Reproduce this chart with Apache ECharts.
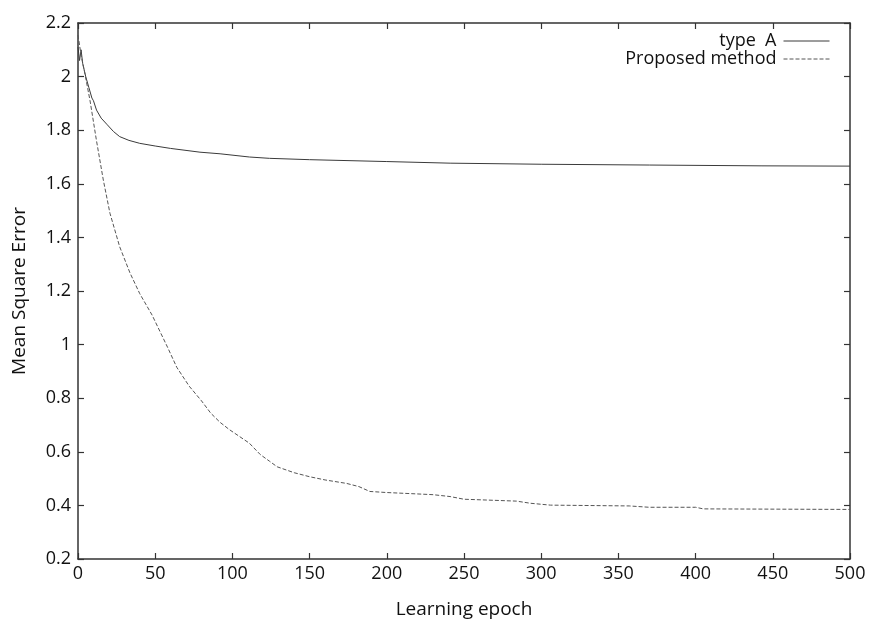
<!DOCTYPE html>
<html>
<head>
<meta charset="utf-8">
<script src="https://cdn.jsdelivr.net/npm/echarts@6/dist/echarts.min.js"></script>
<style>html,body{margin:0;padding:0;background:#fff}#c{width:872px;height:626px}</style>
</head>
<body>
<div id="c"></div>
<script>
const typeAEpochs = [0,1,2,3,5,7,9,10,12,15,19,23,27,33,40,50,60,79,92,111,124,150,200,241,300,370,443,500];
const typeAValues = [2.11,2.06,2.10,2.05,2.00,1.96,1.92,1.91,1.875,1.845,1.82,1.795,1.776,1.762,1.751,1.741,1.732,1.718,1.712,1.700,1.695,1.690,1.683,1.677,1.673,1.670,1.667,1.666];
const proposedEpochs = [0,2,4.5,7.8,12,16.4,20.7,27,33.7,40,48,53,58,64,72,80,86,92,98,111,118,124,129,140,150,160,174,182,189,200,219,230,241,250,284,293,306,357,370,400,405,500];
const proposedValues = [2.155,2.08,2.01,1.91,1.76,1.614,1.49,1.365,1.267,1.19,1.11,1.05,0.99,0.915,0.845,0.79,0.744,0.71,0.683,0.632,0.59,0.565,0.544,0.522,0.507,0.495,0.482,0.47,0.452,0.448,0.443,0.44,0.433,0.423,0.416,0.408,0.401,0.398,0.393,0.393,0.387,0.385];
const seriesNames = ['type  A', 'Proposed method'];
const xLabel = 'Learning epoch';
const yLabel = 'Mean Square Error';

const FONT = 'Open Sans';
const axisColor = '#333';
const chart = echarts.init(document.getElementById('c'));
const zip = (xs, ys) => xs.map((x, i) => [x, ys[i]]);
const fmt = v => String(Math.round(v * 10) / 10);

chart.setOption({
  animation: false,
  grid: { left: 78, right: 22, top: 23, bottom: 67 },
  legend: {
    orient: 'vertical', right: 37, top: 27, align: 'right',
    itemWidth: 46, itemHeight: 12, itemGap: 0,
    itemStyle: { opacity: 0 },
    lineStyle: { width: 1 },
    textStyle: { fontFamily: FONT, fontSize: 18, color: '#111', padding: [0, 2, 0, 0] },
    data: seriesNames
  },
  xAxis: [{
    type: 'value', min: 0, max: 500, interval: 50,
    name: xLabel, nameLocation: 'middle', nameGap: 41,
    nameTextStyle: { fontFamily: FONT, fontSize: 19, color: '#111' },
    axisLine: { show: true, onZero: false, lineStyle: { color: axisColor, width: 1.5 } },
    axisTick: { show: true, inside: true, length: 6, lineStyle: { color: axisColor, width: 1.2 } },
    axisLabel: { fontFamily: FONT, fontSize: 18, color: '#111', margin: 6 },
    splitLine: { show: false }
  }, {
    type: 'value', min: 0, max: 500, interval: 50, position: 'top',
    axisLine: { show: true, onZero: false, lineStyle: { color: axisColor, width: 1.5 } },
    axisTick: { show: true, inside: true, length: 6, lineStyle: { color: axisColor, width: 1.2 } },
    axisLabel: { show: false }, splitLine: { show: false }
  }],
  yAxis: [{
    type: 'value', min: 0.2, max: 2.2, interval: 0.2,
    name: yLabel, nameLocation: 'middle', nameGap: 49, nameRotate: 90,
    nameTextStyle: { fontFamily: FONT, fontSize: 19, color: '#111' },
    axisLine: { show: true, onZero: false, lineStyle: { color: axisColor, width: 1.5 } },
    axisTick: { show: true, inside: true, length: 6, lineStyle: { color: axisColor, width: 1.2 } },
    axisLabel: { fontFamily: FONT, fontSize: 18, color: '#111', margin: 7, formatter: fmt },
    splitLine: { show: false }
  }, {
    type: 'value', min: 0.2, max: 2.2, interval: 0.2, position: 'right',
    axisLine: { show: true, onZero: false, lineStyle: { color: axisColor, width: 1.5 } },
    axisTick: { show: true, inside: true, length: 6, lineStyle: { color: axisColor, width: 1.2 } },
    axisLabel: { show: false }, splitLine: { show: false }
  }],
  series: [{
    name: seriesNames[0], type: 'line', symbol: 'none', showSymbol: false,
    data: zip(typeAEpochs, typeAValues),
    lineStyle: { color: '#3a3a3a', width: 1, type: 'solid' },
    itemStyle: { color: '#3a3a3a' }
  }, {
    name: seriesNames[1], type: 'line', symbol: 'none', showSymbol: false,
    data: zip(proposedEpochs, proposedValues),
    lineStyle: { color: '#555', width: 1, type: [4, 2] },
    itemStyle: { color: '#555' }
  }]
});
</script>
</body>
</html>
